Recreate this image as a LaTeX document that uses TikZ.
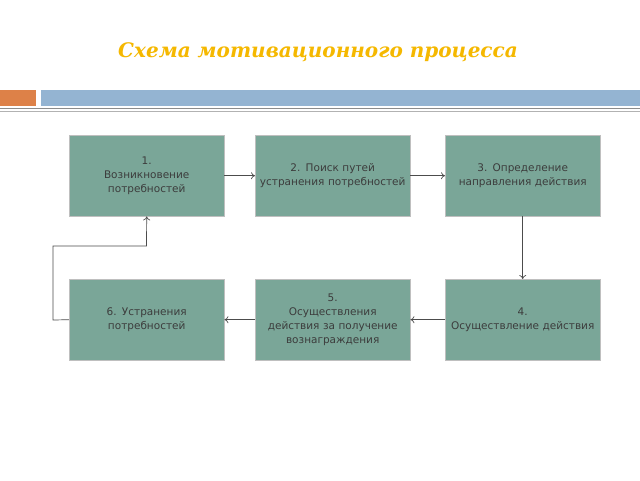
\documentclass[tikz,border=0pt]{standalone}
\usetikzlibrary{arrows.meta}
\usepackage{fontspec}
\setmainfont{DejaVu Sans}
\newfontfamily\titlefont{DejaVu Serif}
\definecolor{boxfill}{RGB}{122,166,152}
\definecolor{boxtext}{RGB}{60,60,60}
\definecolor{titlecol}{RGB}{245,184,0}
\definecolor{orangebar}{RGB}{221,129,72}
\definecolor{bluebar}{RGB}{148,180,210}
\begin{document}
\begin{tikzpicture}[x=1pt,y=-1pt,
  box/.style={draw=black!25,fill=boxfill,text=boxtext,
    minimum width=155pt,minimum height=81pt,text width=150pt,align=center,inner sep=1pt,
    font=\fontsize{10.5}{14}\selectfont,anchor=north west},
  arr/.style={draw=black!70,line width=0.7pt,-{To[length=4pt,width=7pt]}}]
\useasboundingbox (0,0) rectangle (640,480);
\fill[white] (0,0) rectangle (640,480);
\node[text=titlecol,font=\titlefont\bfseries\itshape\fontsize{20}{24}\selectfont] (title) at (318,52) {Схема мотивационного процесса};
\fill[orangebar] (0,90) rectangle (36,106);
\fill[bluebar] (41,90) rectangle (640,106);
\draw[black!45,line width=1pt] (0,108) -- (640,108);
\draw[black!30,line width=0.6pt] (0,111) -- (640,111);
\node[box] (b1) at (69,135) {1.\\Возникновение потребностей};
\node[box] (b2) at (255,135) {2. Поиск путей устранения потребностей};
\node[box] (b3) at (445,135) {3. Определение направления действия};
\node[box] (b6) at (69,279) {6. Устранения потребностей};
\node[box] (b5) at (255,279) {5.\\Осуществления действия за получение вознаграждения};
\node[box] (b4) at (445,279) {4.\\Осуществление действия};
\draw[arr] (b1.east) -- (b2.west);
\draw[arr] (b2.east) -- (b3.west);
\draw[arr] (b3.south) -- (b4.north);
\draw[arr] (b4.west) -- (b5.east);
\draw[arr] (b5.west) -- (b6.east);
\coordinate (c1) at (53,320);
\coordinate (c2) at (53,246);
\coordinate (c3) at (146.5,246);
\draw[arr] (b6.west) -- (c1) -- (c2) -- (c3) -- (b1.south);
\end{tikzpicture}
\end{document}
